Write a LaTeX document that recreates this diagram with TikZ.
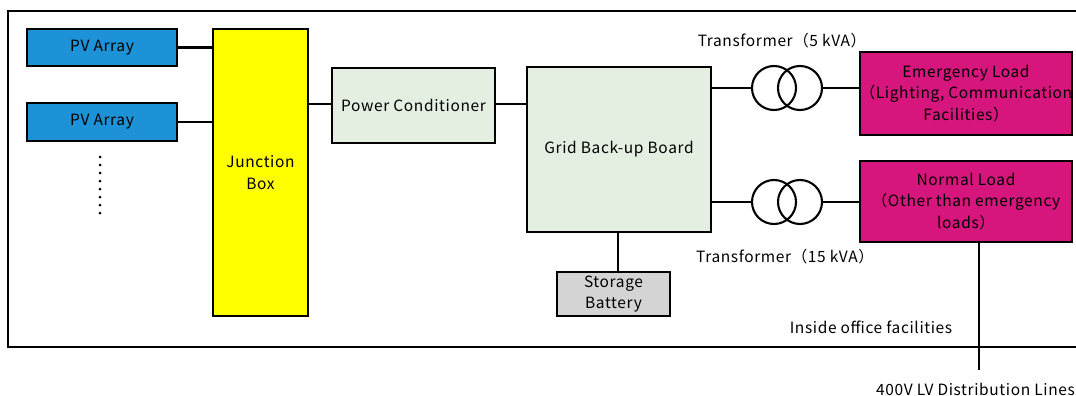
\documentclass[tikz,border=0pt]{standalone}
\usepackage{fontspec}
\setmainfont{Noto Sans CJK JP}[LetterSpace=4]
\usetikzlibrary{positioning}
\definecolor{pvblue}{RGB}{30,146,214}
\definecolor{boxyellow}{RGB}{255,255,0}
\definecolor{palegreen}{RGB}{228,239,226}
\definecolor{battgray}{RGB}{212,212,212}
\definecolor{loadpink}{RGB}{214,22,124}
\tikzset{
  block/.style={draw=black, line width=2.1pt, align=center, inner sep=0pt,
    font=\fontsize{15.5}{21.5}\selectfont},
  wire/.style={line width=2.1pt},
  coil/.style={circle, draw=black, line width=2.1pt, minimum size=44pt, inner sep=0pt},
  note/.style={font=\fontsize{15.5}{17}\selectfont, inner sep=0pt}
}
\begin{document}
\begin{tikzpicture}[x=1pt,y=-1pt]
  \useasboundingbox (0,0) rectangle (1076,396);
  % frame of the office
  \draw[line width=1.5pt] (1090,11) -- (8,11) -- (8,347) -- (1090,347);

  % blocks
  \node[block, fill=pvblue, minimum width=150pt, minimum height=37pt] (pv1) at (102,47.5) {PV Array};
  \node[block, fill=pvblue, minimum width=150pt, minimum height=38pt] (pv2) at (102,122) {PV Array};
  \node[block, fill=boxyellow, minimum width=95pt, minimum height=287pt] (jb) at (260.5,172.5) {Junction\\Box};
  \node[block, fill=palegreen, minimum width=163pt, minimum height=75pt] (pc) at (413.5,105.5) {Power Conditioner};
  \node[block, fill=palegreen, minimum width=184pt, minimum height=165pt] (gbb) at (619,149.5) {Grid Back-up Board};
  \node[block, fill=battgray, minimum width=113pt, minimum height=44pt] (sb) at (613.5,294) {Storage\\Battery};
  \node[block, fill=loadpink, minimum width=212pt, minimum height=83pt] (el) at (966,93.5) {Emergency Load\\（Lighting, Communication\\Facilities）};
  \node[block, fill=loadpink, minimum width=212pt, minimum height=81pt] (nl) at (966,201.5) {Normal Load\\（Other than emergency\\loads）};

  % transformers
  \node[coil] (t5a) at (774,88) {};
  \node[coil] (t5b) at (800,88) {};
  \node[coil] (t15a) at (774,202) {};
  \node[coil] (t15b) at (800,202) {};

  % more arrays
  \foreach \k in {0,...,7}
    \fill (100,157+8*\k) circle (1.5);

  % connections
  \draw[wire] (pv1.east) -- (pv1.east -| jb.west);
  \draw[wire] (pv2.east) -- (pv2.east -| jb.west);
  \draw[wire] (jb.east |- 0,104) -- (pc.west |- 0,104);
  \draw[wire] (pc.east |- 0,104) -- (gbb.west |- 0,104);
  \draw[wire] (gbb.south -| 618,0) -- (sb.north -| 618,0);
  \draw[wire] (t5a.west -| gbb.east) -- (t5a.west);
  \draw[wire] (t5b.east) -- (t5b.east -| el.west);
  \draw[wire] (t15a.west -| gbb.east) -- (t15a.west);
  \draw[wire] (t15b.east) -- (t15b.east -| nl.west);
  \coordinate (lv) at (979,370);
  \draw[wire] (nl.south -| lv) -- (lv);

  % labels
  \node[note] (t5lbl) at (782,41) {Transformer（5 kVA）};
  \node[note] (t15lbl) at (785,257) {Transformer（15 kVA）};
  \node[note] (inside) at (871,327) {Inside office facilities};
  \node[note, anchor=east] (lvlbl) at (1075,389) {400V LV Distribution Lines};
\end{tikzpicture}
\end{document}
